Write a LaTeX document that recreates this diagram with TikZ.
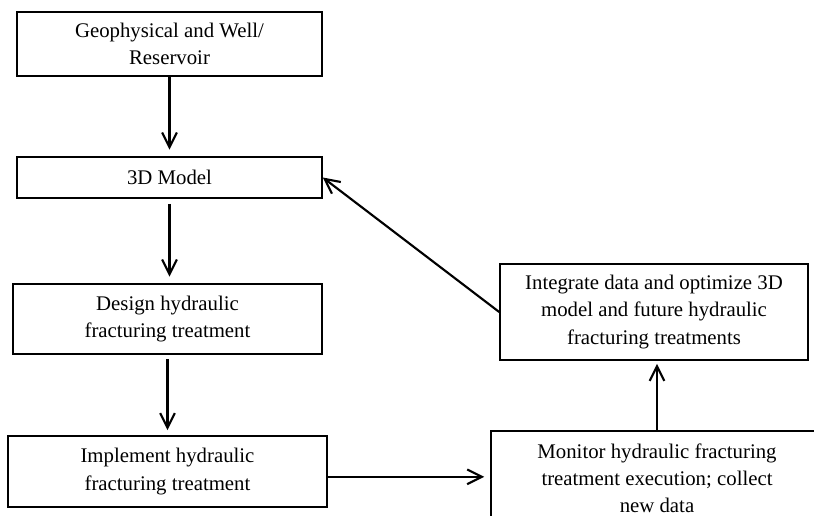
\documentclass[tikz,border=0pt]{standalone}
\usepackage{fontspec}
\setmainfont{Liberation Serif}
\usetikzlibrary{positioning,arrows.meta,calc}

\begin{document}
\begin{tikzpicture}[x=0.75pt,y=-0.75pt,
  stepbox/.style={draw,line width=1.2pt,inner sep=0pt,align=center,
    font=\fontsize{15.6}{20.3}\selectfont},
  flow/.style={line width=1.6pt,-{Straight Barb[length=11pt,width=11pt,line width=1.6pt]}}
]
\useasboundingbox (0,0) rectangle (814,516);
\clip (0,0) rectangle (814,516);

% the boxes on the left
\node[stepbox,minimum width=228.75pt,minimum height=48pt] (geo) at (169.5,44)
  {Geophysical and Well/\\Reservoir};
\node[stepbox,minimum width=228.75pt,minimum height=30.75pt] (model) at (169.5,177.5)
  {3D Model};
\node[stepbox,minimum width=231.75pt,minimum height=52.5pt] (design) at (167.5,319)
  {Design hydraulic\\fracturing treatment};
\node[stepbox,minimum width=239.25pt,minimum height=53.25pt] (impl) at (167.5,471.5)
  {Implement hydraulic\\fracturing treatment};

% the boxes on the right
\node[stepbox,minimum width=249pt,minimum height=70.5pt] (monitor) at (657,478)
  {Monitor hydraulic fracturing\\treatment execution; collect\\new data};
\node[stepbox,minimum width=231pt,minimum height=72pt] (integ) at (654,312)
  {Integrate data and optimize 3D\\model and future hydraulic\\fracturing treatments};

% the arrows
\draw[flow,shorten >=5pt] (geo.south) -- (geo.south |- model.north);
\draw[flow,shorten <=3.75pt,shorten >=5pt] (model.south) -- (model.south |- design.north);
\draw[flow,shorten <=3pt,shorten >=3.75pt] (design.south) -- (design.south |- impl.north);
\draw[flow,shorten >=4.5pt] ([yshift=-4pt]impl.east) -- ([yshift=-4pt]impl.east -| monitor.west);
\draw[flow,shorten >=2.25pt] (monitor.north) -- (monitor.north |- integ.south);
\draw[flow] (integ.west) -- (model.east);
\end{tikzpicture}
\end{document}
